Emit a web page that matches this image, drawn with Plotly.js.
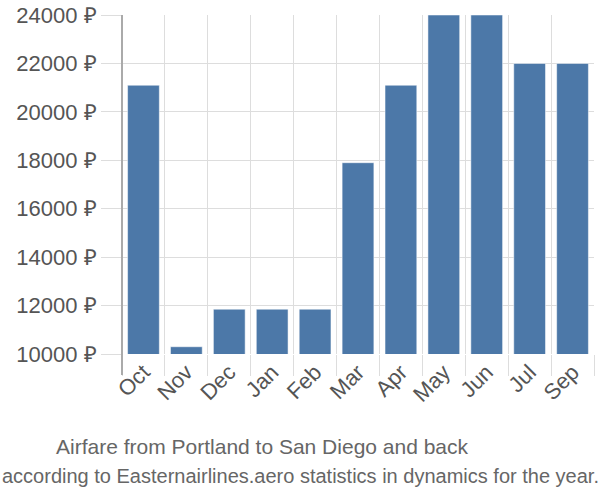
<!DOCTYPE html>
<html>
<head>
<meta charset="utf-8">
<script src="https://cdn.plot.ly/plotly-3.0.1.min.js"></script>
<style>html,body{margin:0;padding:0;background:#fff}#chart{width:600px;height:500px}</style>
</head>
<body>
<div id="chart"></div>
<script>
var months = ["Oct","Nov","Dec","Jan","Feb","Mar","Apr","May","Jun","Jul","Sep"];
var prices = [21100, 10300, 11850, 11850, 11850, 17900, 21100, 24000, 24000, 22000, 22000];
var yTicks = [10000, 12000, 14000, 16000, 18000, 20000, 22000, 24000];
var titleLine1 = "Airfare from Portland to San Diego and back";
var titleLine2 = "according to Easternairlines.aero statistics in dynamics for the year.";

var font = "Liberation Sans";
var trace = {
  type: "bar",
  x: months,
  y: prices,
  marker: {color: "#4c78a8", line: {color: "rgba(255,255,255,0.5)", width: 1}},
  hoverinfo: "none"
};
var layout = {
  width: 600, height: 500,
  margin: {l: 122, r: 6, t: 15, b: 146},
  paper_bgcolor: "#fff", plot_bgcolor: "#fff",
  bargap: 0.26,
  showlegend: false,
  font: {family: font, color: "#555", size: 22},
  xaxis: {
    type: "category",
    tickson: "boundaries",
    ticks: "outside", ticklen: 21, tickcolor: "#ddd", tickwidth: 1,
    showgrid: true, gridcolor: "#ddd", gridwidth: 1,
    tickangle: -45,
    tickfont: {size: 22, color: "#555", family: font},
    showline: false, zeroline: false
  },
  yaxis: {
    range: [10000, 24000],
    tickvals: yTicks,
    ticktext: yTicks.map(function(v){return v + " ₽";}),
    ticks: "outside", ticklen: 20, tickcolor: "#ddd", tickwidth: 1,
    showgrid: true, gridcolor: "#ddd", gridwidth: 1,
    tickfont: {size: 22, color: "#555", family: font},
    showline: false, zeroline: false
  },
  shapes: [{
    type: "line", xref: "paper", yref: "paper",
    x0: 0, x1: 0, y0: -0.062, y1: 1,
    line: {color: "#aaa", width: 2}
  }],
  annotations: [
    {text: titleLine1, xref: "paper", yref: "paper", x: 0.5, xanchor: "center",
     y: -0.274, yanchor: "middle", showarrow: false, xshift: -96,
     font: {size: 21, color: "#666", family: font}},
    {text: titleLine2, xref: "paper", yref: "paper", x: 0.5, xanchor: "center",
     y: -0.359, yanchor: "middle", showarrow: false, xshift: -58,
     font: {size: 20, color: "#666", family: font}}
  ]
};
Plotly.newPlot("chart", [trace], layout, {displayModeBar: false, staticPlot: true}).then(function(gd){
  var texts = gd.querySelectorAll(".annotation-text");
  texts.forEach(function(t){
    if (t.textContent === titleLine2) {
      t.setAttribute("textLength", "597");
      t.setAttribute("lengthAdjust", "spacingAndGlyphs");
    }
  });
});
</script>
</body>
</html>
